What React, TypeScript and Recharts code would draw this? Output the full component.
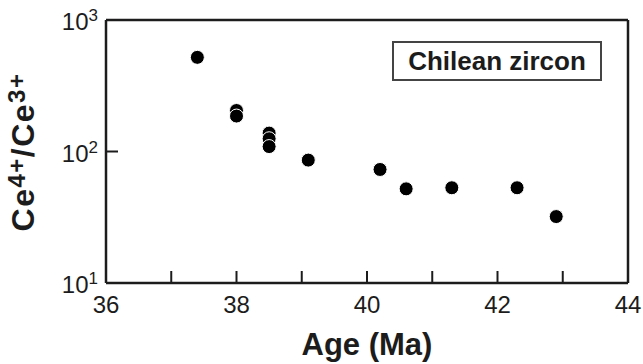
import { ScatterChart, Scatter, XAxis, YAxis, Legend } from 'recharts';

// Chilean zircon Ce4+/Ce3+ vs age
const ages = [37.4, 38.0, 38.0, 38.5, 38.5, 38.5, 39.1, 40.2, 40.6, 41.3, 42.3, 42.9];
const ratios = [520, 205, 186, 138, 125, 109, 86, 73, 52, 53, 53, 32];
const xTicks = [36, 37, 38, 39, 40, 41, 42, 43, 44];
const xLabels = [36, 38, 40, 42, 44];
const yTicks = [10, 100, 1000];

const INK = '#1c1c1c';
const FONT = '"Liberation Sans", Arial, sans-serif';

const points = ages.map((age, i) => ({ age, ratio: ratios[i] }));

const XTick = (props: any) => {
    const { x, y, payload } = props;
    const v = payload.value;
    const inner = v !== 36 && v !== 44;
    return (
        <g>
            {inner && <line x1={x} x2={x} y1={y} y2={y - 12} stroke={INK} strokeWidth={2} />}
            {xLabels.includes(v) && (
                <text x={x} y={y + 30} textAnchor="middle" fontSize={24} fill={INK} fontFamily={FONT}>
                    {v}
                </text>
            )}
        </g>
    );
};

const YTick = (props: any) => {
    const { x, y, payload } = props;
    const exp = Math.round(Math.log10(payload.value));
    return (
        <g>
            {payload.value === 100 && <line x1={x} x2={x + 12} y1={y} y2={y} stroke={INK} strokeWidth={2} />}
            <text x={x - 8} y={y + 10} textAnchor="end" fontSize={24} fill={INK} fontFamily={FONT}>
                10
                <tspan fontSize={17} dy={-9}>{exp}</tspan>
            </text>
        </g>
    );
};

const YLabel = (props: any) => {
    const { viewBox } = props;
    const cx = viewBox.x + 34;
    const cy = 152;
    return (
        <text
            x={cx}
            y={cy}
            transform={`rotate(-90, ${cx}, ${cy})`}
            textAnchor="middle"
            fontSize={32}
            fontWeight="bold"
            letterSpacing={1.5}
            fill={INK}
            fontFamily={FONT}
        >
            Ce<tspan fontSize={24} dy={-9}>4+</tspan>
            <tspan dy={9}>/Ce</tspan>
            <tspan fontSize={24} dy={-9}>3+</tspan>
        </text>
    );
};

const XLabel = (props: any) => {
    const { viewBox } = props;
    return (
        <text
            x={viewBox.x + viewBox.width / 2}
            y={viewBox.y + 72}
            textAnchor="middle"
            fontSize={31}
            fontWeight="bold"
            fill={INK}
            fontFamily={FONT}
        >
            Age (Ma)
        </text>
    );
};

const LegendBox = () => (
    <div
        style={{
            width: 206,
            height: 36,
            border: '2px solid #444',
            display: 'flex',
            alignItems: 'center',
            justifyContent: 'center',
            fontFamily: FONT,
            fontWeight: 'bold',
            fontSize: 26,
            color: INK,
            background: '#fff',
        }}
    >
        Chilean zircon
    </div>
);

const Dot = (props: any) => (
    <circle cx={props.cx} cy={props.cy} r={7} fill="#000" stroke="#fff" strokeWidth={1} />
);

export default function App() {
    return (
        <div style={{ position: 'absolute', left: 0, top: 0, width: 643, height: 364, background: '#fff' }}>
            <ScatterChart width={643} height={364} margin={{ top: 0, right: 0, bottom: 0, left: 0 }}>
                <XAxis
                    dataKey="age"
                    type="number"
                    domain={[36, 44]}
                    ticks={xTicks}
                    interval={0}
                    height={81}
                    tickSize={0}
                    tickMargin={0}
                    tickLine={false}
                    tick={<XTick />}
                    axisLine={{ stroke: INK, strokeWidth: 2.5 }}
                    label={<XLabel />}
                />
                <XAxis
                    xAxisId="top"
                    orientation="top"
                    type="number"
                    domain={[36, 44]}
                    height={20}
                    tick={false}
                    tickLine={false}
                    axisLine={{ stroke: INK, strokeWidth: 2.5 }}
                />
                <YAxis
                    dataKey="ratio"
                    type="number"
                    scale="log"
                    domain={[10, 1000]}
                    allowDataOverflow
                    ticks={yTicks}
                    interval={0}
                    width={106}
                    tickSize={0}
                    tickMargin={0}
                    tickLine={false}
                    tick={<YTick />}
                    axisLine={{ stroke: INK, strokeWidth: 2.5 }}
                    label={<YLabel />}
                />
                <YAxis
                    yAxisId="right"
                    orientation="right"
                    type="number"
                    domain={[10, 1000]}
                    width={15}
                    tick={false}
                    tickLine={false}
                    axisLine={{ stroke: INK, strokeWidth: 2.5 }}
                />
                <Legend
                    layout="vertical"
                    align="center"
                    verticalAlign="middle"
                    content={<LegendBox />}
                    wrapperStyle={{ position: 'absolute', left: 392, top: 41, width: 210, height: 40 }}
                />
                <Scatter data={points} shape={<Dot />} isAnimationActive={false} />
            </ScatterChart>
        </div>
    );
}
